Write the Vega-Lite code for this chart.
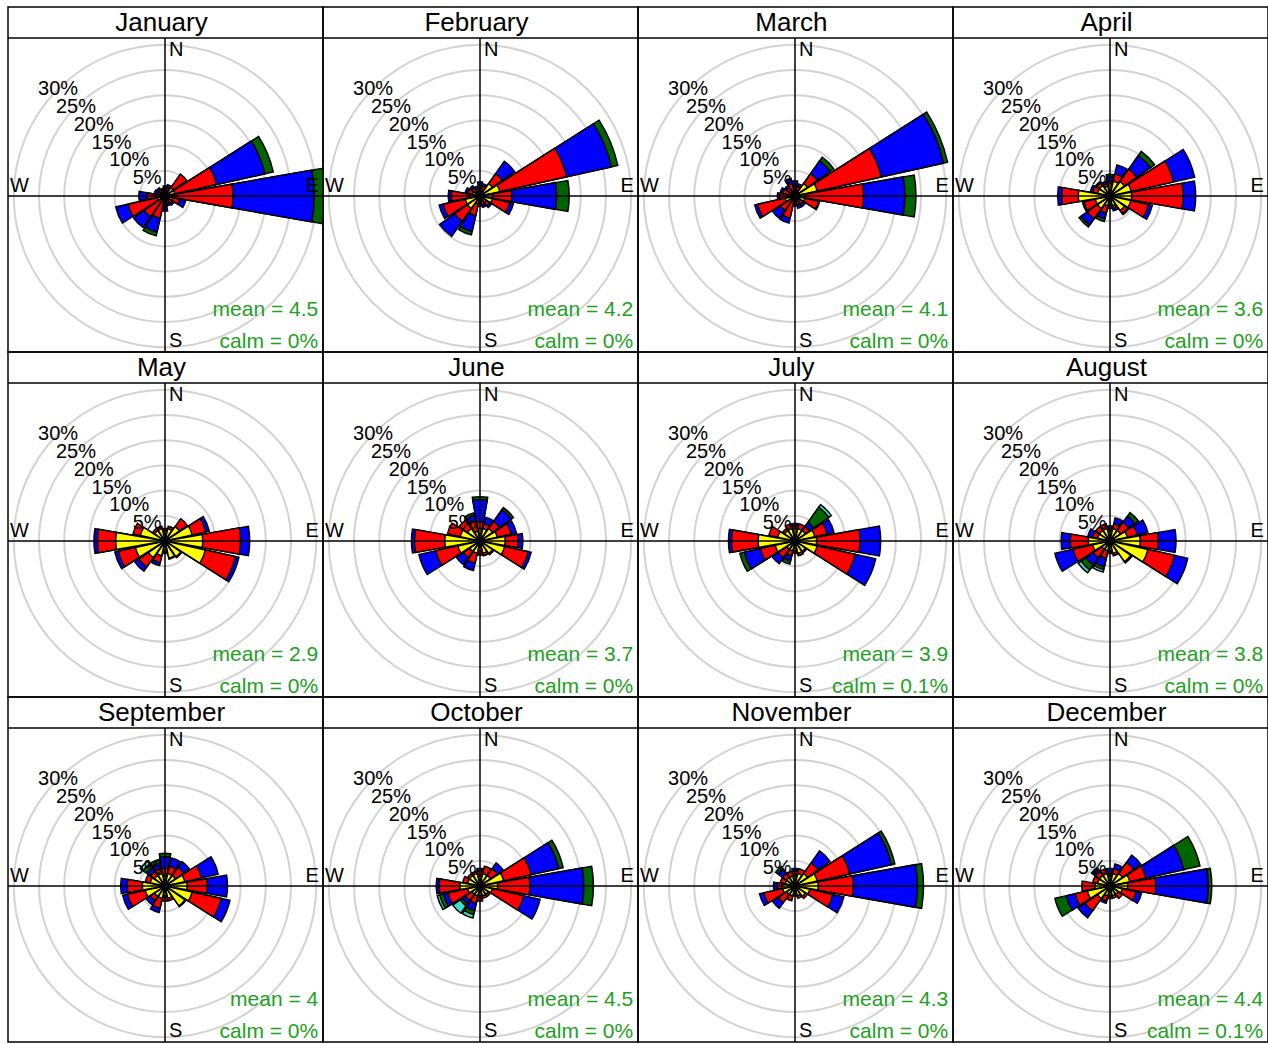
{
"$schema": "https://vega.github.io/schema/vega-lite/v6.json",
"padding": {"left": 6, "top": 6, "right": 0, "bottom": 0},
"background": "white",
"bounds": "flush",
"datasets": {
"rose": [
{"m":"January","d":0,"Y":0.8,"R":1.5,"B":2},
{"m":"January","d":22.5,"Y":1,"R":1.8,"B":2.3},
{"m":"January","d":45,"Y":2,"R":5.3},
{"m":"January","d":67.5,"Y":2,"R":10.5,"B":20.3,"G":22},
{"m":"January","d":90,"Y":1.5,"R":13.5,"B":29.6,"G":32.5},
{"m":"January","d":112.5,"Y":1.5,"R":3,"B":4.2},
{"m":"January","d":135,"Y":1,"R":1.8,"B":2.2},
{"m":"January","d":157.5,"Y":0.8,"R":1.5,"B":2},
{"m":"January","d":180,"Y":1,"R":2,"B":3},
{"m":"January","d":202.5,"Y":1,"R":4.5,"B":7.3,"G":8.1},
{"m":"January","d":225,"Y":1,"R":5,"B":7.6},
{"m":"January","d":247.5,"Y":1.5,"R":7.5,"B":10},
{"m":"January","d":270,"Y":1,"R":3.5,"B":5.2},
{"m":"January","d":292.5,"Y":0.8,"R":1.5,"B":2.2},
{"m":"January","d":315,"Y":0.8,"R":1.5,"B":2},
{"m":"January","d":337.5,"Y":0.8,"R":1.2,"B":1.6},
{"m":"February","d":0,"Y":1,"R":2,"B":2.8},
{"m":"February","d":22.5,"Y":1,"R":2,"B":2.5},
{"m":"February","d":45,"Y":3,"R":5.4,"B":8.4},
{"m":"February","d":67.5,"Y":4,"R":17.6,"B":26.7,"G":28},
{"m":"February","d":90,"Y":2.5,"R":6.3,"B":15.2,"G":17.7},
{"m":"February","d":112.5,"Y":2.5,"R":6,"B":6.8},
{"m":"February","d":135,"Y":1.5,"R":2.3,"B":2.8},
{"m":"February","d":157.5,"Y":1,"R":1.8,"B":2.3},
{"m":"February","d":180,"Y":1,"R":1.5,"B":2},
{"m":"February","d":202.5,"Y":1.5,"R":4,"B":7.2,"G":7.9},
{"m":"February","d":225,"Y":3,"R":6.1,"B":9.8},
{"m":"February","d":247.5,"Y":3,"R":7.5,"B":8.3},
{"m":"February","d":270,"Y":2,"R":5.7,"B":6.3},
{"m":"February","d":292.5,"Y":1.5,"R":2.5,"B":3},
{"m":"February","d":315,"Y":1,"R":2,"B":2.5},
{"m":"February","d":337.5,"Y":1,"R":1.5,"B":2},
{"m":"March","d":0,"Y":1,"R":2,"B":3},
{"m":"March","d":22.5,"Y":1,"R":2,"B":2.5},
{"m":"March","d":45,"Y":3,"R":5.4,"B":8.5,"G":9.4},
{"m":"March","d":67.5,"Y":4.5,"R":17.5,"B":30.2,"G":31},
{"m":"March","d":90,"Y":2,"R":13.6,"B":21.8,"G":24},
{"m":"March","d":112.5,"Y":2,"R":4.8,"B":5},
{"m":"March","d":135,"Y":1,"R":2,"B":2.5},
{"m":"March","d":157.5,"Y":1,"R":1.8,"B":2.5},
{"m":"March","d":180,"Y":1,"R":1.5,"B":2},
{"m":"March","d":202.5,"Y":1,"R":4.5,"B":5.5},
{"m":"March","d":225,"Y":1,"R":3.5,"B":5.4},
{"m":"March","d":247.5,"Y":2,"R":7.6,"B":8.2},
{"m":"March","d":270,"Y":1.5,"R":3,"B":3.5},
{"m":"March","d":292.5,"Y":1,"R":2.5,"B":3},
{"m":"March","d":315,"Y":1,"R":2,"B":2.5},
{"m":"March","d":337.5,"Y":1,"R":2.5,"B":3.6},
{"m":"April","d":0,"Y":2.5,"R":3,"B":3.8,"G":4.3},
{"m":"April","d":22.5,"Y":3,"R":4.5,"B":6.3},
{"m":"April","d":45,"Y":3.5,"R":6.5,"B":9.8,"G":10.8},
{"m":"April","d":67.5,"Y":4.3,"R":12.9,"B":17.2},
{"m":"April","d":90,"Y":4.3,"R":14.5,"B":17},
{"m":"April","d":112.5,"Y":4.2,"R":7.8,"B":8.6},
{"m":"April","d":135,"Y":3.5,"R":4.2,"B":4.5},
{"m":"April","d":157.5,"Y":2,"R":2.5,"B":3},
{"m":"April","d":180,"Y":1.5,"R":2,"B":2.5},
{"m":"April","d":202.5,"Y":2,"R":3.5,"B":4.6,"G":5.2},
{"m":"April","d":225,"Y":3,"R":5.5,"B":7,"G":7.5},
{"m":"April","d":247.5,"Y":3,"R":5.3,"B":5.6},
{"m":"April","d":270,"Y":6.3,"R":9.6,"B":10.4},
{"m":"April","d":292.5,"Y":2.5,"R":3.5,"B":4},
{"m":"April","d":315,"Y":2.5,"R":3.2,"B":3.5},
{"m":"April","d":337.5,"Y":2,"R":2.5,"B":3},
{"m":"May","d":0,"Y":2,"R":2.5},
{"m":"May","d":22.5,"Y":2.5,"R":3},
{"m":"May","d":45,"Y":3.5,"R":5.4},
{"m":"May","d":67.5,"Y":5.5,"R":8.3,"B":9},
{"m":"May","d":90,"Y":7.5,"R":15,"B":16.8},
{"m":"May","d":112.5,"Y":8.2,"R":14.3,"B":15},
{"m":"May","d":135,"Y":3.8,"R":4},
{"m":"May","d":157.5,"Y":3.5,"R":3.7},
{"m":"May","d":180,"Y":2,"R":2.5},
{"m":"May","d":202.5,"Y":3,"R":4.4,"B":5},
{"m":"May","d":225,"Y":4,"R":6.3,"B":7.3},
{"m":"May","d":247.5,"Y":6,"R":9.5,"B":10.2},
{"m":"May","d":270,"Y":9.8,"R":13.4,"B":14.1},
{"m":"May","d":292.5,"Y":5,"R":6.5},
{"m":"May","d":315,"Y":2.5,"R":3},
{"m":"May","d":337.5,"Y":2.5,"R":3},
{"m":"June","d":0,"Y":2.5,"R":3.8,"B":8.2,"G":8.8},
{"m":"June","d":22.5,"Y":2.5,"R":3.5,"B":4.8},
{"m":"June","d":45,"Y":3,"R":4.7,"B":7.6,"G":8.1},
{"m":"June","d":67.5,"Y":3.5,"R":6.3,"B":7.4},
{"m":"June","d":90,"Y":5,"R":7.6,"B":8.5},
{"m":"June","d":112.5,"Y":5,"R":9.8,"B":10.4},
{"m":"June","d":135,"Y":3,"R":3.3},
{"m":"June","d":157.5,"Y":2.5,"R":3},
{"m":"June","d":180,"Y":2,"R":2.8},
{"m":"June","d":202.5,"Y":2.5,"R":4.5,"B":6},
{"m":"June","d":225,"Y":2.5,"R":4,"B":5.7},
{"m":"June","d":247.5,"Y":4.5,"R":9,"B":12.4},
{"m":"June","d":270,"Y":7,"R":13,"B":13.6},
{"m":"June","d":292.5,"Y":4,"R":6.6},
{"m":"June","d":315,"Y":3,"R":5},
{"m":"June","d":337.5,"Y":2,"R":4,"B":5.2,"G":5.7},
{"m":"July","d":0,"Y":2.5,"R":3,"B":3.5},
{"m":"July","d":22.5,"Y":2.5,"R":3.5},
{"m":"July","d":45,"Y":2.5,"R":3.5,"B":4.5,"G":8.2,"T":8.8},
{"m":"July","d":67.5,"Y":4,"R":6.5,"B":7.9},
{"m":"July","d":90,"Y":4.3,"R":12.9,"B":17},
{"m":"July","d":112.5,"Y":4.5,"R":12.2,"B":16.4},
{"m":"July","d":135,"Y":2.5,"R":2.8},
{"m":"July","d":157.5,"Y":2.5,"R":3},
{"m":"July","d":180,"Y":2,"R":2.5},
{"m":"July","d":202.5,"Y":2,"R":3,"B":4,"G":4.7},
{"m":"July","d":225,"Y":2,"R":4,"B":5.5},
{"m":"July","d":247.5,"Y":4,"R":7,"B":10.3,"G":11.2},
{"m":"July","d":270,"Y":7.3,"R":12.6,"B":13.2},
{"m":"July","d":292.5,"Y":3.5,"R":5.3},
{"m":"July","d":315,"Y":2.5,"R":3},
{"m":"July","d":337.5,"Y":2.5,"R":3.5},
{"m":"August","d":0,"Y":2,"R":2.5,"B":3},
{"m":"August","d":22.5,"Y":2.5,"R":3.5,"B":4.7},
{"m":"August","d":45,"Y":2.5,"R":4.5,"B":6,"G":6.9},
{"m":"August","d":67.5,"Y":3.5,"R":5.5,"B":7.7},
{"m":"August","d":90,"Y":6,"R":9.6,"B":13.1},
{"m":"August","d":112.5,"Y":7.7,"R":13.1,"B":15.8},
{"m":"August","d":135,"Y":5,"R":5.3},
{"m":"August","d":157.5,"Y":2.5,"R":3},
{"m":"August","d":180,"Y":2,"R":2.5},
{"m":"August","d":202.5,"Y":2,"R":3.5,"B":5.2,"G":5.8,"T":6.3},
{"m":"August","d":225,"Y":2,"R":4,"B":5.8,"G":7,"T":7.7},
{"m":"August","d":247.5,"Y":3.5,"R":7.5,"B":11.2},
{"m":"August","d":270,"Y":4.3,"R":7.9,"B":9.7},
{"m":"August","d":292.5,"Y":2.5,"R":3.5,"B":4.5},
{"m":"August","d":315,"Y":2.5,"R":3.5},
{"m":"August","d":337.5,"Y":2.5,"R":3.5},
{"m":"September","d":0,"Y":2,"R":3.5,"B":5.8,"G":6.5},
{"m":"September","d":22.5,"Y":2.5,"R":4,"B":5.7},
{"m":"September","d":45,"Y":2.5,"R":4.5,"B":5.9},
{"m":"September","d":67.5,"Y":4,"R":7.4,"B":10.8},
{"m":"September","d":90,"Y":4.4,"R":8.4,"B":12.4},
{"m":"September","d":112.5,"Y":5.5,"R":11.4,"B":13.2},
{"m":"September","d":135,"Y":4.8,"R":5},
{"m":"September","d":157.5,"Y":2.5,"R":3},
{"m":"September","d":180,"Y":2,"R":3},
{"m":"September","d":202.5,"Y":2.5,"R":4.5,"B":5.4},
{"m":"September","d":225,"Y":2.5,"R":3.5,"B":4.5},
{"m":"September","d":247.5,"Y":4,"R":7.6,"B":8.6},
{"m":"September","d":270,"Y":4.5,"R":7.5,"B":8.8},
{"m":"September","d":292.5,"Y":3,"R":4},
{"m":"September","d":315,"Y":2.5,"R":3.5,"B":4.5,"G":5.3,"T":6},
{"m":"September","d":337.5,"Y":2.5,"R":3.5,"B":4.7,"G":5.4},
{"m":"October","d":0,"Y":2,"R":3,"B":3.5},
{"m":"October","d":22.5,"Y":2.5,"R":4},
{"m":"October","d":45,"Y":2.5,"R":4.2,"B":5.6},
{"m":"October","d":67.5,"Y":4.8,"R":10.4,"B":16,"G":16.9},
{"m":"October","d":90,"Y":3.5,"R":9.9,"B":20.6,"G":22.5},
{"m":"October","d":112.5,"Y":2.5,"R":8.9,"B":12.2},
{"m":"October","d":135,"Y":2,"R":2.5},
{"m":"October","d":157.5,"Y":2,"R":2.5},
{"m":"October","d":180,"Y":2,"R":3},
{"m":"October","d":202.5,"Y":2,"R":3.5,"B":5,"G":5.8,"T":6.5},
{"m":"October","d":225,"Y":2,"R":3.5,"B":4.3,"G":4.8,"T":6.6},
{"m":"October","d":247.5,"Y":2.5,"R":6.5,"B":7.4,"G":8.2,"T":8.7},
{"m":"October","d":270,"Y":4,"R":8.1,"B":8.7},
{"m":"October","d":292.5,"Y":2.5,"R":3.5},
{"m":"October","d":315,"Y":2.5,"R":3},
{"m":"October","d":337.5,"Y":2.5,"R":3},
{"m":"November","d":0,"Y":2,"R":3,"B":3.5},
{"m":"November","d":22.5,"Y":2.5,"R":3.5},
{"m":"November","d":45,"Y":3,"R":5.6,"B":8.5},
{"m":"November","d":67.5,"Y":4.5,"R":11.1,"B":19.6,"G":20.3},
{"m":"November","d":90,"Y":4.6,"R":11.6,"B":24.3,"G":25.5},
{"m":"November","d":112.5,"Y":3,"R":7.7,"B":9.9},
{"m":"November","d":135,"Y":2.5,"R":3},
{"m":"November","d":157.5,"Y":2,"R":2.5},
{"m":"November","d":180,"Y":1.5,"R":2},
{"m":"November","d":202.5,"Y":2,"R":3},
{"m":"November","d":225,"Y":2,"R":4,"B":5.4},
{"m":"November","d":247.5,"Y":2.5,"R":6.3,"B":7.2},
{"m":"November","d":270,"Y":2.5,"R":3.5,"B":4.3},
{"m":"November","d":292.5,"Y":2,"R":3},
{"m":"November","d":315,"Y":2,"R":3,"B":4,"G":4.7},
{"m":"November","d":337.5,"Y":2,"R":3},
{"m":"December","d":0,"Y":2,"R":2.5,"B":3.5},
{"m":"December","d":22.5,"Y":2.5,"R":3.5,"B":4.5},
{"m":"December","d":45,"Y":3,"R":5.7,"B":7.5},
{"m":"December","d":67.5,"Y":4,"R":7.3,"B":15,"G":18.3},
{"m":"December","d":90,"Y":3.5,"R":9.1,"B":19.5,"G":20.2},
{"m":"December","d":112.5,"Y":2.5,"R":5.3,"B":6.4},
{"m":"December","d":135,"Y":2,"R":3},
{"m":"December","d":157.5,"Y":2,"R":2.5},
{"m":"December","d":180,"Y":2,"R":2.5},
{"m":"December","d":202.5,"Y":2,"R":3,"B":3.5},
{"m":"December","d":225,"Y":3,"R":6,"B":7.7},
{"m":"December","d":247.5,"Y":4.6,"R":7.1,"B":8.9,"G":11.2},
{"m":"December","d":270,"Y":3,"R":5.6},
{"m":"December","d":292.5,"Y":2.5,"R":3.5},
{"m":"December","d":315,"Y":2.5,"R":3.5,"B":4,"G":4.5},
{"m":"December","d":337.5,"Y":2.5,"R":3.5},
{"m":"January","mean":"mean = 4.5","calm":"calm = 0%"},
{"m":"February","mean":"mean = 4.2","calm":"calm = 0%"},
{"m":"March","mean":"mean = 4.1","calm":"calm = 0%"},
{"m":"April","mean":"mean = 3.6","calm":"calm = 0%"},
{"m":"May","mean":"mean = 2.9","calm":"calm = 0%"},
{"m":"June","mean":"mean = 3.7","calm":"calm = 0%"},
{"m":"July","mean":"mean = 3.9","calm":"calm = 0.1%"},
{"m":"August","mean":"mean = 3.8","calm":"calm = 0%"},
{"m":"September","mean":"mean = 4","calm":"calm = 0%"},
{"m":"October","mean":"mean = 4.5","calm":"calm = 0%"},
{"m":"November","mean":"mean = 4.3","calm":"calm = 0%"},
{"m":"December","mean":"mean = 4.4","calm":"calm = 0.1%"}
]
},
"data": {"name": "rose"},
"facet": {"field": "m", "type": "nominal", "sort": ["January","February","March","April","May","June","July","August","September","October","November","December"], "header": {"labels": false, "title": null, "labelFontSize": 0.01, "labelPadding": 0, "labelColor": "transparent", "labelExpr": "''"}},
"columns": 4,
"spacing": 0,
"spec": {
"width": 315,
"height": 345,
"layer": [
{
"data": {"values": [{"r":5},{"r":10},{"r":15},{"r":20},{"r":25},{"r":30}]},
"mark": {"type": "arc", "fillOpacity": 0, "stroke": "#d3d3d3", "strokeWidth": 2, "clip": true},
"encoding": {
"x": {"datum": 0, "type": "quantitative", "scale": {"domain": [-31.151, 31.349], "nice": false, "zero": false}, "axis": null},
"y": {"datum": 0, "type": "quantitative", "scale": {"domain": [-30.952, 37.5], "nice": false, "zero": false}, "axis": null},
"theta": {"datum": 0, "type": "quantitative", "scale": {"domain": [0, 360], "range": [0, 6.283185307179586]}},
"theta2": {"datum": 360},
"radius": {"field": "r", "type": "quantitative", "scale": {"type": "linear", "domain": [0, 30], "range": [0, 151.2], "zero": true}},
"radius2": {"field": "r"}
}
},
{
"transform": [
{"filter": "isValid(datum.d)"},
{"fold": ["T","G","B","R","Y"], "as": ["s","v"]},
{"filter": "isValid(datum.v)"},
{"calculate": "datum.d - 10", "as": "a0"},
{"calculate": "datum.d + 10", "as": "a1"}
],
"mark": {"type": "arc", "stroke": "black", "strokeWidth": 1.5, "clip": true},
"encoding": {
"x": {"datum": 0, "type": "quantitative", "scale": {"domain": [-31.151, 31.349], "nice": false, "zero": false}, "axis": null},
"y": {"datum": 0, "type": "quantitative", "scale": {"domain": [-30.952, 37.5], "nice": false, "zero": false}, "axis": null},
"theta": {"field": "a0", "type": "quantitative", "stack": false, "scale": {"domain": [0, 360], "range": [0, 6.283185307179586]}},
"theta2": {"field": "a1"},
"radius": {"field": "v", "type": "quantitative", "scale": {"type": "linear", "domain": [0, 30], "range": [0, 151.2], "zero": true}},
"color": {"field": "s", "type": "nominal", "scale": {"domain": ["Y","R","B","G","T"], "range": ["#ffff00","#ff0000","#0000ff","#006400","#40e0d0"]}, "legend": null}
}
},
{
"data": {"values": [{}]},
"mark": {"type": "rule", "color": "black", "strokeWidth": 1.5},
"encoding": {
"y": {"datum": 0, "type": "quantitative", "scale": {"domain": [-30.952, 37.5], "nice": false, "zero": false}, "axis": null}
}
},
{
"data": {"values": [{}]},
"mark": {"type": "rule", "color": "black", "strokeWidth": 1.5},
"encoding": {
"x": {"datum": 0, "type": "quantitative", "scale": {"domain": [-31.151, 31.349], "nice": false, "zero": false}, "axis": null},
"y": {"datum": -30.952, "type": "quantitative", "scale": {"domain": [-30.952, 37.5], "nice": false, "zero": false}, "axis": null},
"y2": {"datum": 31.349}
}
},
{
"data": {"values": [{}]},
"mark": {"type": "rule", "color": "black", "strokeWidth": 1.5},
"encoding": {
"y": {"datum": 31.349, "type": "quantitative", "scale": {"domain": [-30.952, 37.5], "nice": false, "zero": false}, "axis": null}
}
},
{
"data": {"values": [{"r":5,"t":"5%"},{"r":10,"t":"10%"},{"r":15,"t":"15%"},{"r":20,"t":"20%"},{"r":25,"t":"25%"},{"r":30,"t":"30%"}]},
"mark": {"type": "text", "font": "Liberation Sans", "fontSize": 20, "align": "center", "baseline": "middle", "color": "black"},
"encoding": {
"x": {"datum": 0, "type": "quantitative", "scale": {"domain": [-31.151, 31.349], "nice": false, "zero": false}, "axis": null},
"y": {"datum": 0, "type": "quantitative", "scale": {"domain": [-30.952, 37.5], "nice": false, "zero": false}, "axis": null},
"theta": {"datum": 315, "type": "quantitative", "scale": {"domain": [0, 360], "range": [0, 6.283185307179586]}},
"radius": {"field": "r", "type": "quantitative", "scale": {"type": "linear", "domain": [0, 30], "range": [0, 151.2], "zero": true}},
"text": {"field": "t"}
}
},
{
"data": {"values": [{}]},
"mark": {"type": "text", "font": "Liberation Sans", "fontSize": 20, "align": "left", "baseline": "middle", "color": "black"},
"encoding": {
"x": {"datum": 0.8, "type": "quantitative", "scale": {"domain": [-31.151, 31.349], "nice": false, "zero": false}, "axis": null},
"y": {"datum": 28.97, "type": "quantitative", "scale": {"domain": [-30.952, 37.5], "nice": false, "zero": false}, "axis": null},
"text": {"value": "N"}
}
},
{
"data": {"values": [{}]},
"mark": {"type": "text", "font": "Liberation Sans", "fontSize": 20, "align": "left", "baseline": "middle", "color": "black"},
"encoding": {
"x": {"datum": 0.8, "type": "quantitative", "scale": {"domain": [-31.151, 31.349], "nice": false, "zero": false}, "axis": null},
"y": {"datum": -28.77, "type": "quantitative", "scale": {"domain": [-30.952, 37.5], "nice": false, "zero": false}, "axis": null},
"text": {"value": "S"}
}
},
{
"data": {"values": [{}]},
"mark": {"type": "text", "font": "Liberation Sans", "fontSize": 20, "align": "left", "baseline": "middle", "color": "black"},
"encoding": {
"x": {"datum": -30.75, "type": "quantitative", "scale": {"domain": [-31.151, 31.349], "nice": false, "zero": false}, "axis": null},
"y": {"datum": 1.98, "type": "quantitative", "scale": {"domain": [-30.952, 37.5], "nice": false, "zero": false}, "axis": null},
"text": {"value": "W"}
}
},
{
"data": {"values": [{}]},
"mark": {"type": "text", "font": "Liberation Sans", "fontSize": 20, "align": "right", "baseline": "middle", "color": "black"},
"encoding": {
"x": {"datum": 30.5, "type": "quantitative", "scale": {"domain": [-31.151, 31.349], "nice": false, "zero": false}, "axis": null},
"y": {"datum": 1.98, "type": "quantitative", "scale": {"domain": [-30.952, 37.5], "nice": false, "zero": false}, "axis": null},
"text": {"value": "E"}
}
},
{
"transform": [{"filter": "isValid(datum.mean)"}],
"mark": {"type": "text", "font": "Liberation Sans", "fontSize": 26, "align": "center", "baseline": "middle", "color": "black"},
"encoding": {
"x": {"datum": -0.7, "type": "quantitative", "scale": {"domain": [-31.151, 31.349], "nice": false, "zero": false}, "axis": null},
"y": {"datum": 34.4, "type": "quantitative", "scale": {"domain": [-30.952, 37.5], "nice": false, "zero": false}, "axis": null},
"text": {"field": "m"}
}
},
{
"transform": [{"filter": "isValid(datum.mean)"}],
"mark": {"type": "text", "font": "Liberation Sans", "fontSize": 21, "align": "right", "baseline": "middle", "color": "#22a022"},
"encoding": {
"x": {"datum": 30.4, "type": "quantitative", "scale": {"domain": [-31.151, 31.349], "nice": false, "zero": false}, "axis": null},
"y": {"datum": -22.6, "type": "quantitative", "scale": {"domain": [-30.952, 37.5], "nice": false, "zero": false}, "axis": null},
"text": {"field": "mean"}
}
},
{
"transform": [{"filter": "isValid(datum.mean)"}],
"mark": {"type": "text", "font": "Liberation Sans", "fontSize": 21, "align": "right", "baseline": "middle", "color": "#22a022"},
"encoding": {
"x": {"datum": 30.4, "type": "quantitative", "scale": {"domain": [-31.151, 31.349], "nice": false, "zero": false}, "axis": null},
"y": {"datum": -28.97, "type": "quantitative", "scale": {"domain": [-30.952, 37.5], "nice": false, "zero": false}, "axis": null},
"text": {"field": "calm"}
}
}
]
},
"config": {"view": {"stroke": "black", "strokeWidth": 1.5}, "headerFacet": {"labels": false, "title": null, "labelFontSize": 0.01, "labelPadding": 0, "labelColor": "transparent", "labelExpr": "''"}, "headerColumn": {"labels": false, "labelExpr": "''", "labelFontSize": 0.01, "labelPadding": 0}, "headerRow": {"labels": false, "labelExpr": "''", "labelFontSize": 0.01, "labelPadding": 0}, "header": {"labels": false, "labelExpr": "''", "labelFontSize": 0.01, "labelPadding": 0}}
}
